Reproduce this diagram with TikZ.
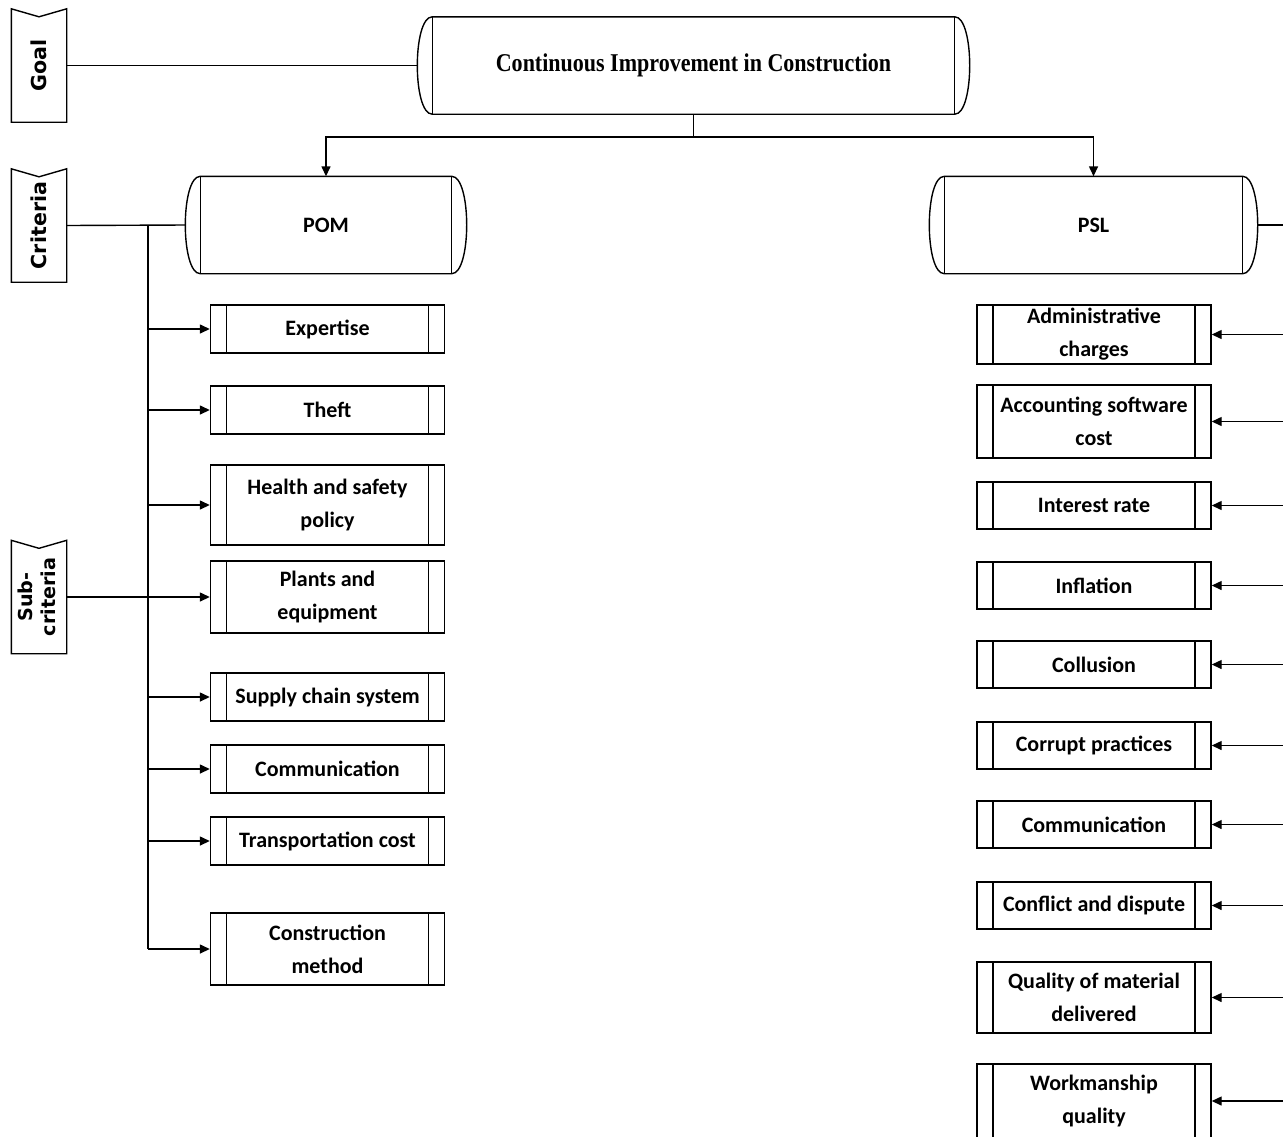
\documentclass[tikz,border=0pt]{standalone}
\usepackage{fontspec}
\usepackage{graphicx}
\setmainfont{Carlito}
\newfontfamily\tagfont{DejaVu Sans}
\newfontfamily\titlefont{Liberation Serif}
\usetikzlibrary{arrows.meta}
\tikzset{
  tagbox/.style={minimum width=27pt,minimum height=56pt,inner sep=0pt,
    font=\tagfont\bfseries\fontsize{10.3}{15}\selectfont},
  drum/.style={minimum height=48pt,inner sep=0pt,
    font=\bfseries\fontsize{11}{16.5}\selectfont},
  subbox/.style={draw,minimum width=117pt,inner sep=0pt,align=center,
    font=\bfseries\fontsize{11}{16.5}\selectfont,
    path picture={\draw ([xshift=8pt]path picture bounding box.north west) -- ([xshift=8pt]path picture bounding box.south west)
      ([xshift=-8pt]path picture bounding box.north east) -- ([xshift=-8pt]path picture bounding box.south east);}}
}
\begin{document}
\begin{tikzpicture}[x=0.5pt,y=-0.5pt,line width=0.7pt,>={Triangle[length=5pt,width=4.5pt]}]
\clip (0,0) rectangle (1283,1136);

\node[tagbox] at (39,65.5)(goal){\rotatebox{90}{Goal}};
\node[tagbox] at (39,225.5)(crit){\rotatebox{90}{Criteria}};
\node[tagbox,font=\tagfont\bfseries\fontsize{9.6}{11.5}\selectfont] at (39,597)(sub){\rotatebox{90}{\begin{tabular}{@{}c@{}}Sub-\\criteria\end{tabular}}};
\foreach \n in {goal,crit,sub}
    \draw (\n.north west) -- ([yshift=-4pt]\n.north) -- (\n.north east) -- (\n.south east) -- (\n.south west) -- cycle;

\node[drum,minimum width=275.5pt] at (693.5,65.5)(top){\titlefont\bfseries\fontsize{12.8}{15}\selectfont\scalebox{0.86}[1]{Continuous Improvement in Construction}};
\node[drum,minimum width=140pt] at (326,225)(pom){POM};
\node[drum,minimum width=163.5pt] at (1093.5,225)(psl){PSL};
\foreach \n in {top,pom,psl}{
    \draw ([xshift=7.5pt]\n.north west) -- ([xshift=-7.5pt]\n.north east)
        .. controls ([xshift=2.5pt]\n.north east) and ([xshift=2.5pt]\n.south east) .. ([xshift=-7.5pt]\n.south east)
        -- ([xshift=7.5pt]\n.south west)
        .. controls ([xshift=-2.5pt]\n.south west) and ([xshift=-2.5pt]\n.north west) .. cycle;
    \draw ([xshift=7.5pt]\n.north west) -- ([xshift=7.5pt]\n.south west)
        ([xshift=-7.5pt]\n.north east) -- ([xshift=-7.5pt]\n.south east);
}

\foreach \y/\h/\txt [count=\i] in {329/48/Expertise, 410/48/Theft, 505/80/Health and safety\\policy,
    597/72/Plants and\\equipment, 697/48/Supply chain system, 769/48/Communication,
    841/48/Transportation cost, 949/72/Construction\\method}
    \node[subbox,minimum height=\h*0.5pt] at (327.5,\y)(p\i){\txt};

\foreach \y/\h/\txt [count=\i] in {334.5/59/Administrative\\charges, 421.5/73/Accounting software\\cost,
    505.5/47/Interest rate, 585.5/47/Inflation, 664.5/47/Collusion, 745.5/47/Corrupt practices,
    824.5/47/Communication, 905.5/47/Conflict and dispute, 997.5/71/Quality of material\\delivered,
    1101/74/Workmanship\\quality}
    \node[subbox,minimum height=\h*0.5pt] at (1094,\y)(s\i){\txt};

\coordinate (split) at (693.5,137);
\coordinate (bus) at (148,225);
\coordinate (rbus) at (1300,225);
\draw (goal.east) -- (top.west);
\draw (top.south) -- (split);
\draw[->] (split) -| (pom.north);
\draw[->] (split) -| (psl.north);
\draw (crit.east) -- (pom.west);
\draw (bus) -- (bus |- p8.west);
\draw (sub.east) -- (bus |- sub.east);
\foreach \i in {1,...,8}
    \draw[->] (bus |- p\i.west) -- (p\i.west);
\draw (psl.east) -- (rbus);
\foreach \i in {1,...,10}
    \draw[->] (rbus |- s\i.east) -- (s\i.east);
\end{tikzpicture}
\end{document}
